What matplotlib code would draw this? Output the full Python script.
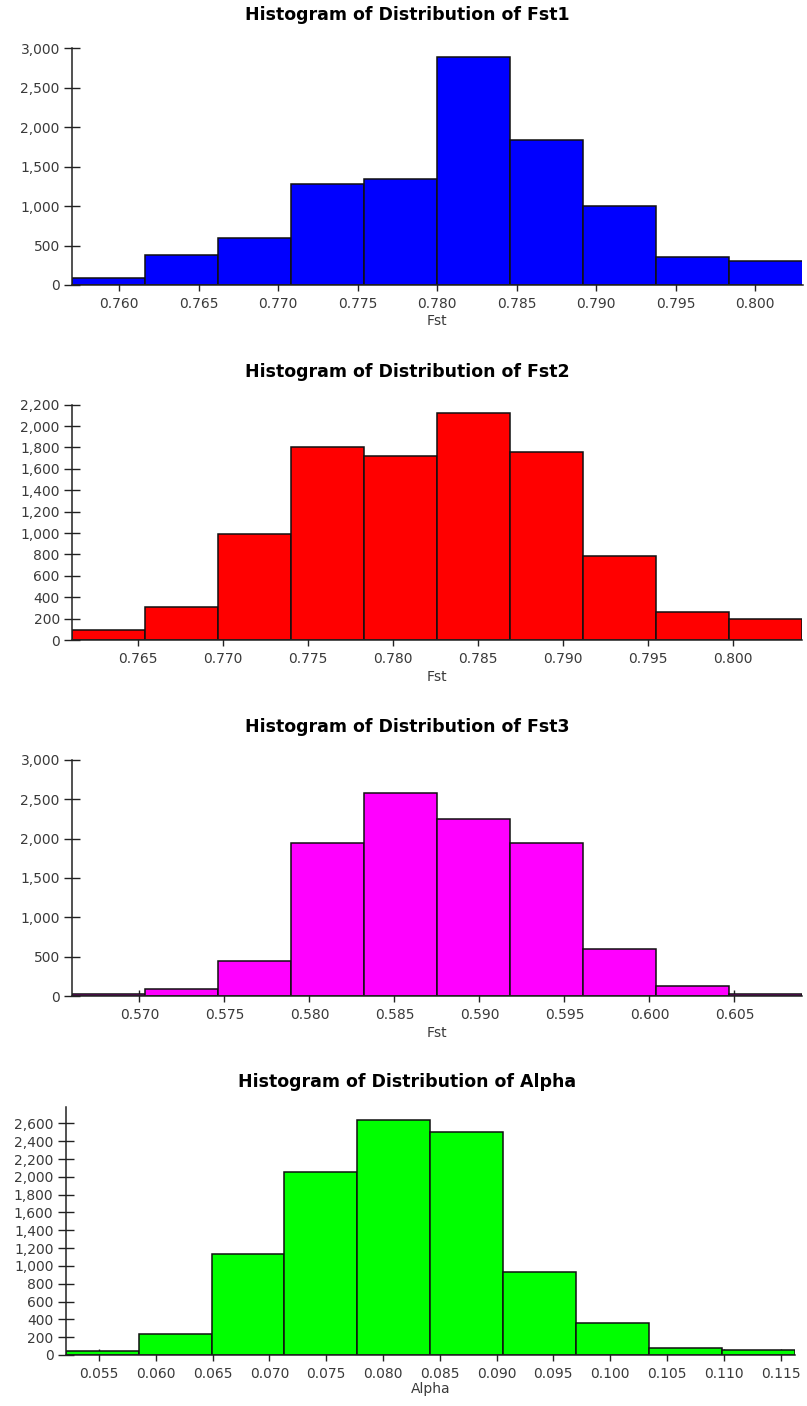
import numpy as np
import matplotlib
matplotlib.use("Agg")
import matplotlib.pyplot as plt
from matplotlib.ticker import FuncFormatter, MultipleLocator, FormatStrFormatter

# Histogram counts (10 equal-width bins per parameter)
fst1_counts = [90, 380, 600, 1285, 1340, 2895, 1840, 995, 360, 300]
fst2_counts = [95, 305, 995, 1800, 1720, 2125, 1755, 790, 260, 195]
fst3_counts = [20, 90, 450, 1945, 2585, 2250, 1945, 600, 130, 20]
alpha_counts = [40, 238, 1130, 2055, 2640, 2500, 928, 364, 83, 53]

# Sample range (min, max) of each parameter
fst1_range = (0.757044, 0.802987)
fst2_range = (0.761118, 0.804059)
fst3_range = (0.566029, 0.608976)
alpha_range = (0.052074, 0.116274)

titles = ["Histogram of Distribution of Fst1",
          "Histogram of Distribution of Fst2",
          "Histogram of Distribution of Fst3",
          "Histogram of Distribution of Alpha"]
xlabels = ["Fst", "Fst", "Fst", "Alpha"]
colors = ["#0000FF", "#FF0000", "#FF00FF", "#00FF00"]
y_ticks = [np.arange(0, 3001, 500), np.arange(0, 2201, 200),
           np.arange(0, 3001, 500), np.arange(0, 2601, 200)]
y_tops = [3000, 2200, 3000, 2790]

W, H = 807, 1406
fig = plt.figure(figsize=(W / 100, H / 100), dpi=100)

# axes boxes in pixels: left, right, top, bottom
boxes = [(72, 802.5, 48.3, 285),
         (72, 802, 404.7, 640),
         (72, 802, 760, 996),
         (65.7, 795, 1106.5, 1355)]
title_y = [15, 371.7, 726.7, 1081.7]
xlabel_y = [321, 676.7, 1032.7, 1389]

counts_all = [fst1_counts, fst2_counts, fst3_counts, alpha_counts]
ranges_all = [fst1_range, fst2_range, fst3_range, alpha_range]

tick_color = "#3a3a3a"
for i in range(4):
    l, r, t, b = boxes[i]
    ax = fig.add_axes([l / W, 1 - b / H, (r - l) / W, (b - t) / H])
    lo, hi = ranges_all[i]
    edges = np.linspace(lo, hi, len(counts_all[i]) + 1)
    ax.bar(edges[:-1], counts_all[i], width=np.diff(edges), align="edge",
           color=colors[i], edgecolor="#101010", linewidth=1.1)
    ax.set_xlim(lo, hi)
    ax.set_ylim(0, y_tops[i])
    ax.set_yticks(y_ticks[i])
    ax.yaxis.set_major_formatter(FuncFormatter(lambda v, p: f"{v:,.0f}"))
    ax.xaxis.set_major_locator(MultipleLocator(0.005))
    ax.xaxis.set_major_formatter(FormatStrFormatter("%.3f"))
    ax.set_axisbelow(True)
    for s in ("top", "right"):
        ax.spines[s].set_visible(False)
    for s in ("left", "bottom"):
        ax.spines[s].set_color("#222222")
        ax.spines[s].set_linewidth(1.1)
    ax.tick_params(axis="y", direction="inout", length=11.5, width=1.0,
                   color="#222222", labelsize=10, labelcolor=tick_color, pad=3)
    ax.tick_params(axis="x", direction="inout", length=9, width=1.0,
                   color="#222222", labelsize=10, labelcolor=tick_color, pad=4)
    ax.set_xlabel(xlabels[i], fontsize=10, color=tick_color)
    ax.xaxis.set_label_coords(0.5, -(xlabel_y[i] - b) / (b - t))
    ax.xaxis.label.set_va("center")
    fig.text(0.505, 1 - title_y[i] / H, titles[i], ha="center", va="center",
             fontsize=12.5, fontweight="bold", color="black")

fig.savefig("out.png", dpi=100, facecolor="white")
